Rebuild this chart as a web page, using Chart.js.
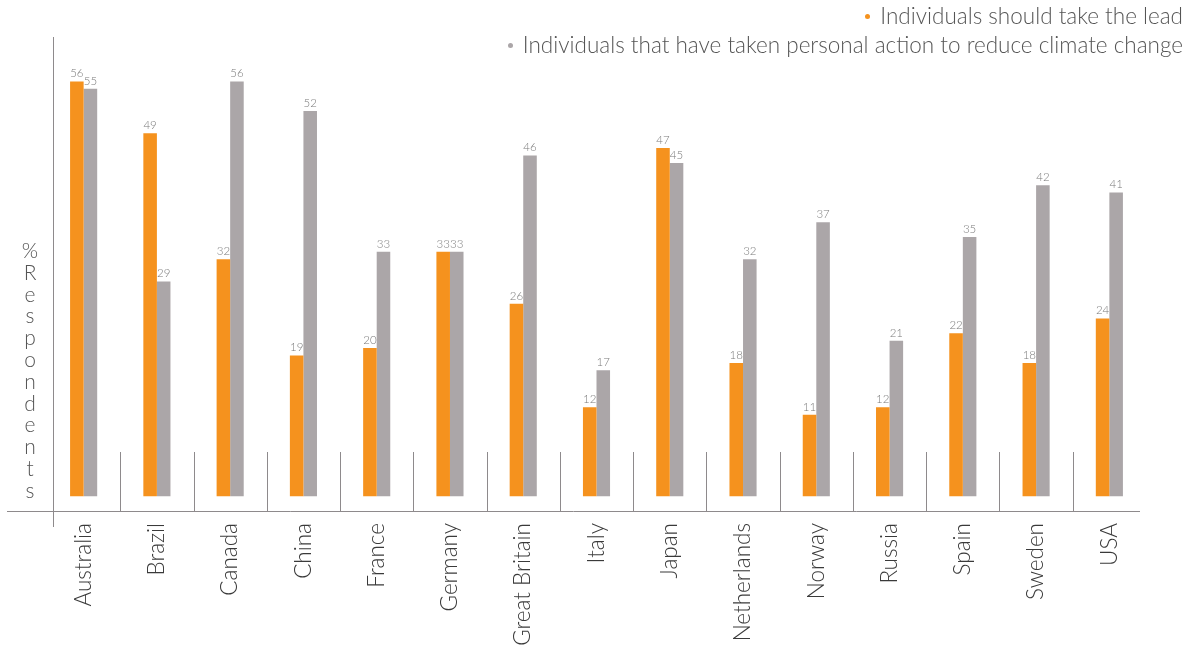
<!DOCTYPE html>
<html>
<head>
<meta charset="utf-8">
<script src="https://cdn.jsdelivr.net/npm/chart.js@4/dist/chart.umd.min.js"></script>
<style>
  html, body { margin: 0; padding: 0; background: #fff; }
  #wrap { position: relative; width: 1190px; height: 648px; overflow: hidden; }
  #chart { position: absolute; left: 0; top: 0; }
  .legend { position: absolute; right: 7px; top: 1px; font-family: Lato, "Open Sans", sans-serif; font-weight: 300;
            font-size: 22.5px; color: #555; text-align: right; line-height: 29px; }
  .legend .dot { display: inline-block; width: 5px; height: 5px; border-radius: 50%; margin-right: 10px; vertical-align: middle; position: relative; top: -2px; }
  .ytitle { position: absolute; left: 10px; top: 239px; width: 40px; display: flex; flex-direction: column; align-items: center;
            font-family: Lato, "Open Sans", sans-serif; font-weight: 300; font-size: 21px; line-height: 21.8px; color: #555; }
  .ytitle span { display: block; height: 21.8px; }
</style>
</head>
<body>
<div id="wrap">
  <canvas id="chart" width="1190" height="648"></canvas>
  <div class="legend">
    <div><span class="dot" style="background:#F5921E"></span>Individuals should take the lead</div>
    <div><span class="dot" style="background:#ABA6A8"></span>Individuals that have taken personal action to reduce climate change</div>
  </div>
  <div class="ytitle" id="ytitle"></div>
</div>
<script>
const countries = ['Australia', 'Brazil', 'Canada', 'China', 'France', 'Germany', 'Great Britain',
                   'Italy', 'Japan', 'Netherlands', 'Norway', 'Russia', 'Spain', 'Sweden', 'USA'];
const shouldLead = [56, 49, 32, 19, 20, 33, 26, 12, 47, 18, 11, 12, 22, 18, 24];
const tookAction = [55, 29, 56, 52, 33, 33, 46, 17, 45, 32, 37, 21, 35, 42, 41];
const seriesNames = ['Individuals should take the lead',
                     'Individuals that have taken personal action to reduce climate change'];
const yTitle = '% Respondents';

const ORANGE = '#F5921E';
const GREY = '#ABA6A8';
const LINE = '#8E8A8C';

// Stacked, upright letters for the vertical axis title
(function () {
  const box = document.getElementById('ytitle');
  for (const ch of yTitle.replace(' ', '')) {
    const s = document.createElement('span');
    s.textContent = ch;
    box.appendChild(s);
  }
})();

// Axis lines, category separators and the value labels above each bar
const framePlugin = {
  id: 'frame',
  beforeDatasetsDraw(chart) {
    const { ctx, chartArea, scales } = chart;
    const x = scales.x;
    ctx.save();
    ctx.strokeStyle = LINE;
    ctx.lineWidth = 1;
    // horizontal axis
    ctx.beginPath();
    ctx.moveTo(7, chartArea.bottom + 0.5);
    ctx.lineTo(1140, chartArea.bottom + 0.5);
    ctx.stroke();
    // vertical axis
    ctx.beginPath();
    ctx.moveTo(53.5, chartArea.top);
    ctx.lineTo(53.5, chartArea.bottom + 16);
    ctx.stroke();
    // short separators between countries
    const step = (x.right - x.left) / countries.length;
    for (let i = 1; i < countries.length; i++) {
      const px = Math.round(x.left + step * i) + 0.5;
      ctx.beginPath();
      ctx.moveTo(px, chartArea.bottom - 59);
      ctx.lineTo(px, chartArea.bottom);
      ctx.stroke();
    }
    ctx.restore();
  },
  afterDatasetsDraw(chart) {
    const { ctx } = chart;
    ctx.save();
    ctx.font = '300 11.5px Lato, "Open Sans", sans-serif';
    ctx.fillStyle = '#7a7a7a';
    ctx.textAlign = 'center';
    ctx.textBaseline = 'bottom';
    chart.data.datasets.forEach((ds, di) => {
      chart.getDatasetMeta(di).data.forEach((bar, i) => {
        ctx.fillText(String(ds.data[i]), bar.x, bar.y - 2);
      });
    });
    ctx.restore();
  }
};

new Chart(document.getElementById('chart'), {
  type: 'bar',
  data: {
    labels: countries,
    datasets: [
      { label: seriesNames[0], data: shouldLead, backgroundColor: ORANGE },
      { label: seriesNames[1], data: tookAction, backgroundColor: GREY }
    ]
  },
  options: {
    responsive: false,
    animation: false,
    layout: { padding: { left: 47, right: 44, top: 37, bottom: 0 } },
    plugins: { legend: { display: false }, tooltip: { enabled: false } },
    datasets: { bar: { categoryPercentage: 0.37, barPercentage: 1, borderWidth: 0 } },
    scales: {
      x: {
        grid: { display: false, drawTicks: false },
        border: { display: false },
        ticks: {
          minRotation: 90, maxRotation: 90, padding: 12, autoSkip: false,
          color: '#3a3a3a', font: { family: 'Lato, "Open Sans", sans-serif', size: 22.5, weight: 300 }
        },
        afterFit(scale) { scale.height = 137; }
      },
      y: {
        display: false,
        min: -2,
        max: 62
      }
    }
  },
  plugins: [framePlugin]
});
</script>
</body>
</html>
